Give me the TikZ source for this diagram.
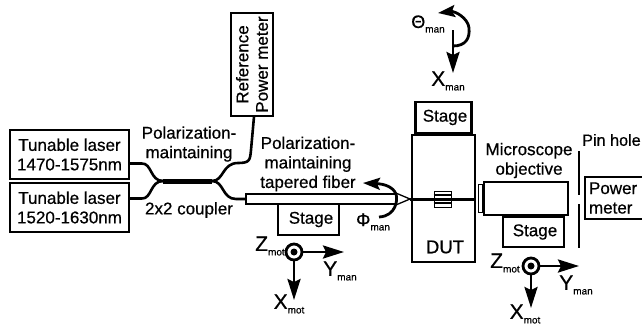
\documentclass[tikz,border=0pt]{standalone}
\usepackage{fontspec}
\setmainfont[RawFeature={embolden=0.6}]{Liberation Sans}
\usetikzlibrary{arrows.meta}
\newcommand{\axlbl}[2]{{\fontsize{21}{21}\selectfont #1}\raisebox{-4.5pt}{\fontsize{10}{10}\selectfont #2}}
\newcommand{\anglbl}[2]{{\fontsize{18}{18}\selectfont #1}\raisebox{-4.5pt}{\fontsize{10}{10}\selectfont #2}}
\begin{document}
\begin{tikzpicture}[x=1pt,y=-1pt,
      txt/.style={font=\fontsize{17}{19.5}\selectfont, inner sep=0pt, align=center},
      box/.style={draw, line width=1.5pt, inner sep=0pt, font=\fontsize{17}{19.5}\selectfont, align=center},
      stg/.style={draw, line width=2.8pt, inner sep=0pt, font=\fontsize{17}{20}\selectfont},
      thin box/.style={draw, line width=1.3pt, inner sep=0pt},
      fib/.style={line width=2.6pt},
      axarr/.style={line width=2.8pt, -{Stealth[length=21pt,width=13pt,inset=3pt]}},
      rotarr/.style={line width=2.8pt, -{Stealth[length=17pt,width=12pt,inset=3pt]}},
      ring/.style={draw, circle, line width=2.8pt, minimum size=16pt, inner sep=0pt},
      hub/.style={fill, circle, minimum size=7pt, inner sep=0pt}]
      \useasboundingbox (0,0) rectangle (642,325);
      % sources and reference
      \node[box, minimum width=119pt, minimum height=49pt] (las1) at (69.5,154.5) {Tunable laser\\1470-1575nm};
      \node[box, minimum width=119pt, minimum height=49pt] (las2) at (69.5,207.5) {Tunable laser\\1520-1630nm};
      \node[box, rotate=90, minimum width=103pt, minimum height=42pt] (ref) at (252,64.5) {Reference\\Power meter};
      % coupler
      \coordinate (cl) at (163,181); \coordinate (cr) at (212,181);
      \coordinate (pm) at (246,199);
      \draw[line width=5pt] (cl)--(cr);
      \draw[fib] ([yshift=-9pt]las1.east)--++(12,0) .. controls (152,163) and (150,181) .. (cl);
      \draw[fib] ([yshift=9pt]las2.east)--++(12,0) .. controls (152,199) and (150,181) .. (cl);
      \draw[fib] (cr) .. controls (224,181) and (222,163) .. (238,163) .. controls (250,163) and (250,160) .. (251,150) -- ([xshift=2pt]ref.west);
      \draw[fib] (cr) .. controls (224,181) and (222,199) .. (236,199) -- (pm);
      \node[txt] (pmlbl) at (189,144) {Polarization-\\maintaining};
      \node[txt] (cplbl) at (189,210) {2x2 coupler};
      % tapered fiber
      \node[thin box, minimum width=150pt, minimum height=10pt] (tap) at (321,199) {};
      \coordinate (tip) at (410,199);
      \draw[line width=1.3pt] (tap.north east)--(tip)--(tap.south east);
      \node[txt] (taplbl) at (308,164) {Polarization-\\maintaining\\tapered fiber};
      \node[stg, minimum width=61pt, minimum height=31pt] (stg1) at (308.5,219.5) {\hspace{5pt}\raisebox{-1pt}{Stage}};
      % rotation of the fiber
      \coordinate (phis) at (379,217); \coordinate (phie) at (363,183);
      \draw[rotarr] (phis) .. controls (396,216) and (398,200) .. (396,194) .. controls (393,187) and (385,184) .. (phie);
      \node[inner sep=0pt] (philbl) at (373,222) {\anglbl{Φ}{man}};
      % left axes
      \node[ring] (zl) at (294,252) {}; \node[hub] (zlc) at (zl) {};
      \coordinate (yl) at (344,252); \coordinate (xl) at (294,300);
      \draw[axarr] (zl)--(yl); \draw[axarr] (zl)--(xl);
      \node[inner sep=0pt] (zllbl) at (270,246) {\axlbl{Z}{mot}};
      \node[inner sep=0pt] (yllbl) at (340,271) {\axlbl{Y}{man}};
      \node[inner sep=0pt] (xllbl) at (289,304) {\axlbl{X}{mot}};
      % device
      \node[thin box, minimum width=63pt, minimum height=127pt] (dut) at (443.5,198.5) {};
      \node[font=\fontsize{18.5}{20}\selectfont, inner sep=0pt] (dutlbl) at (445,247) {DUT};
      \node[stg, minimum width=56pt, minimum height=31pt, anchor=south] (stg2) at (dut.north) {\hspace{3pt}\raisebox{-1.5pt}{Stage}};
      \node[draw, line width=0.8pt, fill=white, minimum width=17pt, minimum height=16pt, inner sep=0pt] (wg) at (442.5,199) {};
      \draw[line width=3pt] (tip)--(dut.east |- tip);
      \draw[line width=1.6pt] (wg.west |- 0,195) -- (wg.east |- 0,195);
      \draw[line width=1.6pt] (wg.west |- 0,203) -- (wg.east |- 0,203);
      % sample rotation
      \coordinate (ths) at (453,46); \coordinate (the) at (438,13);
      \coordinate (xms) at (453,30); \coordinate (xme) at (453,73);
      \draw[rotarr] (ths) .. controls (466,46) and (470,38) .. (469,28) .. controls (468,18) and (455,11) .. (the);
      \draw[axarr] (xms)--(xme);
      \node[inner sep=0pt] (thlbl) at (428,24) {\anglbl{Θ}{man}};
      \node[inner sep=0pt] (xmlbl) at (448,81) {\axlbl{X}{man}};
      % collection side
      \node[thin box, minimum width=84pt, minimum height=33pt] (obj) at (526,198.5) {};
      \node[draw, line width=0.9pt, inner sep=0pt, anchor=east, minimum width=4pt, minimum height=28pt] (cap) at (obj.west) {};
      \node[txt] (objlbl) at (529,160.5) {Microscope\\objective};
      \node[stg, minimum width=61pt, minimum height=30pt] (stg3) at (533.5,232) {\hspace{3pt}Stage};
      \coordinate (ph1a) at (579,151); \coordinate (ph1b) at (579,195);
      \coordinate (ph2a) at (579,204); \coordinate (ph2b) at (579,248);
      \draw[line width=1.5pt] (ph1a)--(ph1b); \draw[line width=1.5pt] (ph2a)--(ph2b);
      \node[txt, anchor=west, font=\fontsize{16.2}{19}\selectfont] (phlbl) at (582,140) {Pin hole};
      \node[box, minimum width=60pt, minimum height=42pt, text width=52pt, align=left] (pow) at (615,198) {Power\\meter};
      % right axes
      \node[ring] (zr) at (531,266) {}; \node[hub] (zrc) at (zr) {};
      \coordinate (yr) at (579,266); \coordinate (xr) at (531,308);
      \draw[axarr] (zr)--(yr); \draw[axarr] (zr)--(xr);
      \node[inner sep=0pt] (zrlbl) at (505,263) {\axlbl{Z}{mot}};
      \node[inner sep=0pt] (yrlbl) at (576,285) {\axlbl{Y}{man}};
      \node[inner sep=0pt] (xrlbl) at (525,314) {\axlbl{X}{mot}};
    \end{tikzpicture}
\end{document}
